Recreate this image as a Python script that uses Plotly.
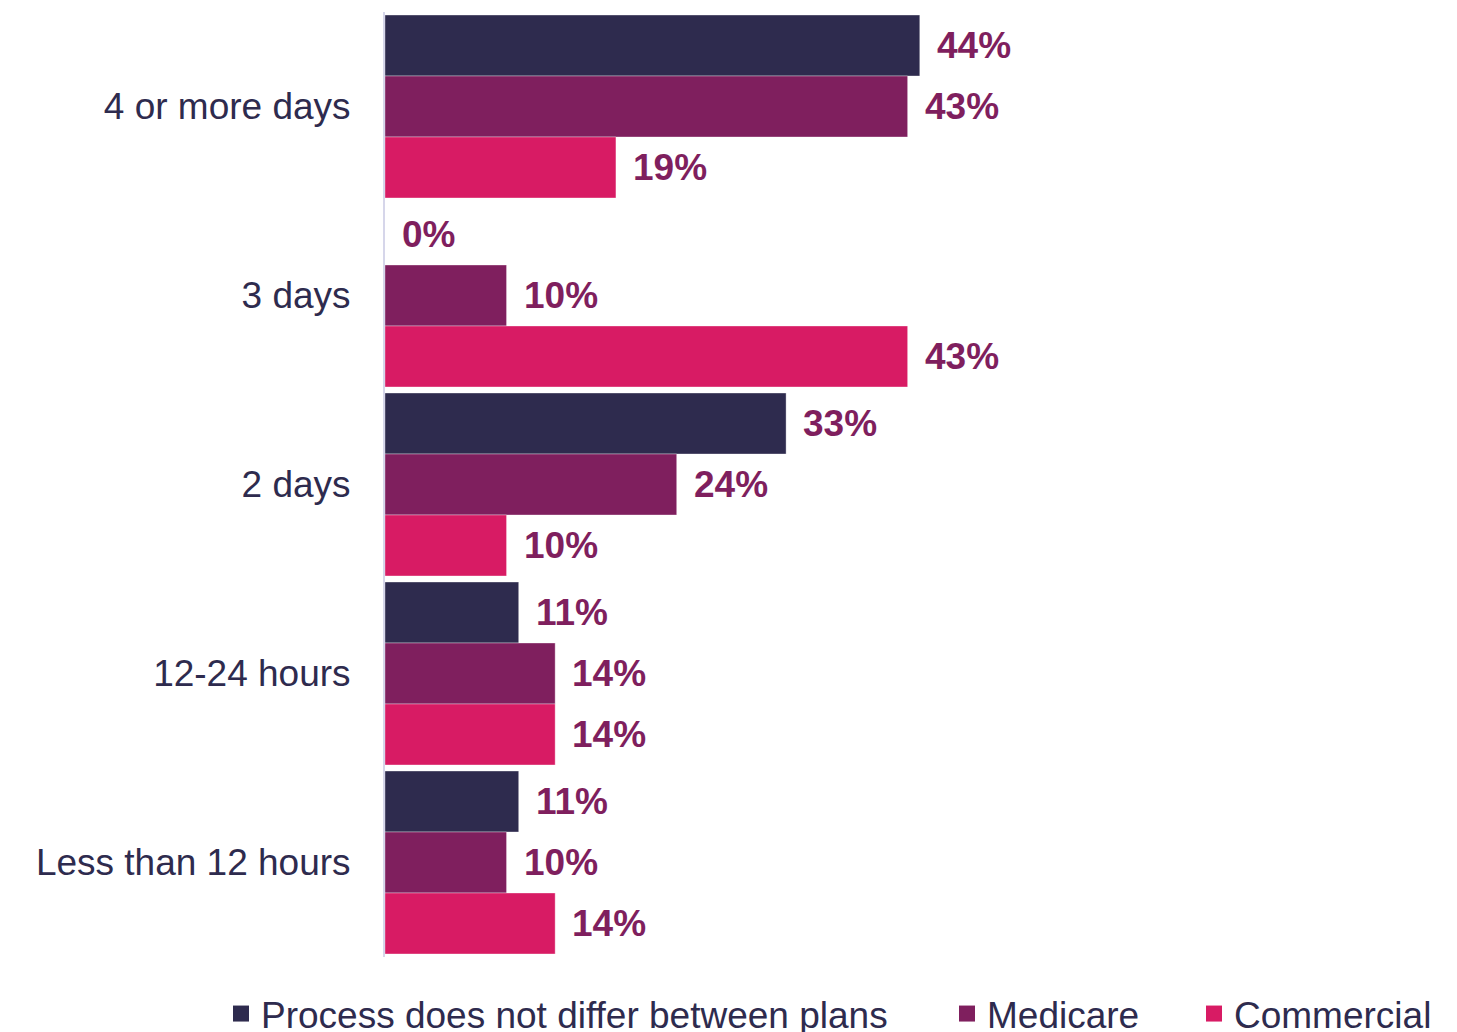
import plotly.graph_objects as go

categories = ["4 or more days", "3 days", "2 days", "12-24 hours", "Less than 12 hours"]
series_names = ["Process does not differ between plans", "Medicare", "Commercial"]
process_vals = [44, 0, 33, 11, 11]
medicare_vals = [43, 10, 24, 14, 10]
commercial_vals = [19, 43, 10, 14, 14]
series_values = [process_vals, medicare_vals, commercial_vals]
colors = ["#2e2b4e", "#7f1f5e", "#d81b64"]

BARGAP = 0.032
FONT = "Liberation Sans, Arial, sans-serif"
FS = 37
NAVY = "#2e2b4e"
LABEL = "#7f1f5e"

fig = go.Figure()
for name, vals, col in zip(series_names, series_values, colors):
    fig.add_trace(go.Bar(
        y=categories, x=vals, name=name, orientation="h", showlegend=False,
        marker=dict(color=col, line=dict(color="rgba(255,255,255,0.35)", width=1)),
        hoverinfo="x+name",
    ))

# legend-only entries with larger square symbols, each in its own legend
legend_ids = ["legend", "legend2", "legend3"]
for name, col, lid in zip(series_names, colors, legend_ids):
    fig.add_trace(go.Scatter(
        x=[None], y=[None], mode="markers", name=name, legend=lid,
        marker=dict(symbol="square", size=18, color=col), showlegend=True,
    ))

w = (1 - BARGAP) / 3
annotations = []
for k, vals in enumerate(series_values):
    for i, v in enumerate(vals):
        annotations.append(dict(
            x=v, y=i + (k - 1) * w, xref="x", yref="y",
            text=f"<b>{v}%</b>", showarrow=False, xanchor="left", yanchor="middle",
            xshift=15, font=dict(family=FONT, size=FS, color=LABEL),
        ))

def leg(xpx):
    return dict(orientation="h", xref="container", x=xpx / 1457, xanchor="left",
                yref="container", y=1 - 1014 / 1032, yanchor="middle",
                font=dict(family=FONT, size=FS, color=NAVY), itemwidth=30,
                bgcolor="rgba(0,0,0,0)")

fig.update_layout(
    barmode="group", bargap=BARGAP, bargroupgap=0,
    width=1457, height=1032,
    margin=dict(l=385, r=0, t=12, b=75, autoexpand=False),
    paper_bgcolor="white", plot_bgcolor="white",
    font=dict(family=FONT, size=FS, color=NAVY),
    xaxis=dict(range=[0, 88.2], visible=False, fixedrange=True),
    yaxis=dict(autorange="reversed", showline=True, linecolor="#d6d6ea", linewidth=2,
               showgrid=False, ticks="", ticklabelstandoff=25,
               tickfont=dict(family=FONT, size=FS, color=NAVY)),
    legend=leg(221), legend2=leg(947), legend3=leg(1194),
    annotations=annotations,
    showlegend=True,
)

fig.write_html("out.html")
